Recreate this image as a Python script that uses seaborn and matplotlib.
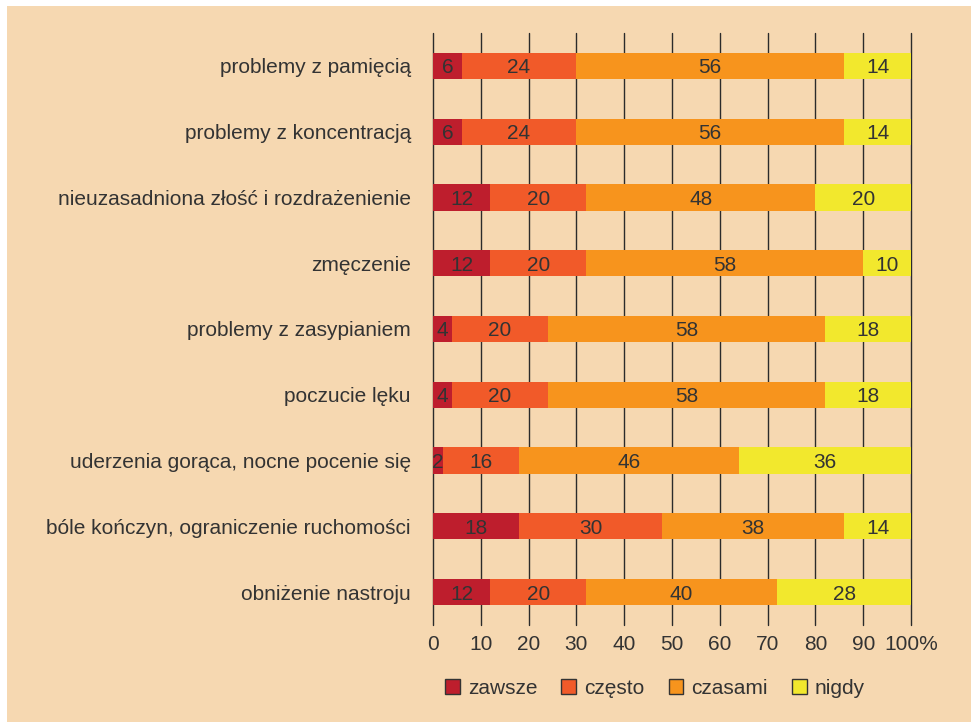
import numpy as np
import pandas as pd
import seaborn as sns
import matplotlib.pyplot as plt
from matplotlib.patches import Patch, Rectangle

categories = [
    "problemy z pamięcią",
    "problemy z koncentracją",
    "nieuzasadniona złość i rozdrażenienie",
    "zmęczenie",
    "problemy z zasypianiem",
    "poczucie lęku",
    "uderzenia gorąca, nocne pocenie się",
    "bóle kończyn, ograniczenie ruchomości",
    "obniżenie nastroju",
]
zawsze = [6, 6, 12, 12, 4, 4, 2, 18, 12]
czesto = [24, 24, 20, 20, 20, 20, 16, 30, 20]
czasami = [56, 56, 48, 58, 58, 58, 46, 38, 40]
nigdy = [14, 14, 20, 10, 18, 18, 36, 14, 28]

series_names = ["zawsze", "często", "czasami", "nigdy"]
series_colors = ["#be1e2d", "#f15a29", "#f7941d", "#f2e82d"]
tick_values = list(range(0, 101, 10))
tick_labels = [str(t) for t in tick_values[:-1]] + ["100%"]

bg = "#f6d8b1"
txt = "#333333"
fs = 15

sns.set_theme(style="white")
plt.rcParams["font.family"] = ["Liberation Sans", "DejaVu Sans"]

df = pd.DataFrame({"cat": categories, "zawsze": zawsze, "często": czesto,
                   "czasami": czasami, "nigdy": nigdy})
cum = df[series_names].cumsum(axis=1)

fig = plt.figure(figsize=(9.71, 7.22), dpi=100, facecolor="white")
fig.patches.append(Rectangle((7 / 971, 0), 1, 1 - 6 / 722, transform=fig.transFigure,
                             facecolor=bg, edgecolor="none", zorder=-10))
ax = fig.add_axes([433 / 971, 1 - 625 / 722, 478 / 971, 592 / 722])
ax.set_facecolor(bg)
ax.patch.set_alpha(0)

# stacked bars: draw cumulative totals back to front
for name, color in reversed(list(zip(series_names, series_colors))):
    sns.barplot(x=cum[name], y=df["cat"], orient="h", color=color, width=0.4,
                saturation=1, errorbar=None, linewidth=0, ax=ax, zorder=3)

for name in series_names:
    for i, (v, c) in enumerate(zip(df[name], cum[name])):
        ax.text(c - v / 2, i, str(v), ha="center", va="center_baseline", fontsize=fs,
                color=txt, zorder=5)

ax.set_xlim(0, 100)
ax.set_ylim(8.5, -0.5)
ax.set_xticks(tick_values)
ax.set_xticklabels(tick_labels)
ax.grid(axis="x", color="#2b2b2b", linewidth=1.0, zorder=0)
ax.grid(axis="y", visible=False)
for gl in ax.get_xgridlines():
    gl.set_clip_on(False)
ax.set_axisbelow(True)
for s in ax.spines.values():
    s.set_visible(False)
ax.tick_params(axis="x", length=0, pad=7, labelsize=fs, labelcolor=txt)
ax.tick_params(axis="y", length=0, pad=16, labelsize=fs, labelcolor=txt)
ax.set_xlabel("")
ax.set_ylabel("")

handles = [Patch(facecolor=c, edgecolor="#333333", linewidth=1.0) for c in series_colors]
fig.legend(handles, series_names, loc="center", bbox_to_anchor=(655 / 971, 1 - 688 / 722),
           ncol=4, frameon=False, fontsize=fs, labelcolor=txt, handlelength=0.7,
           handleheight=0.7, handletextpad=0.4, columnspacing=1.15)

fig.savefig("out.png", dpi=100, facecolor="white")
